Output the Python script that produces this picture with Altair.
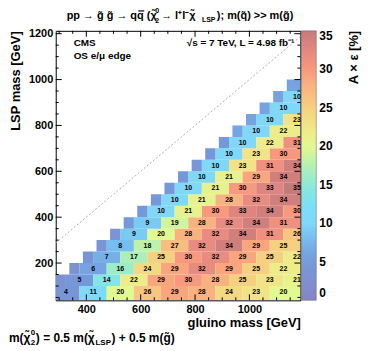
import altair as alt
import pandas as pd

# ---- data -----------------------------------------------------------------
# A x eps [%] labels, one list per LSP row; labels in a row are 100 GeV apart
row_00 = [4, 11, 20, 26, 29, 28, 24, 23, 20]
row_01 = [5, 14, 22, 29, 30, 28, 25, 23, 21]
row_02 = [6, 16, 24, 29, 32, 29, 25, 22]
row_03 = [7, 17, 25, 30, 32, 29, 25, 22]
row_04 = [8, 18, 27, 32, 34, 29, 25]
row_05 = [9, 20, 28, 32, 34, 31, 26]
row_06 = [9, 19, 28, 32, 34, 31]
row_07 = [10, 21, 30, 33, 34, 30]
row_08 = [10, 21, 28, 32, 34]
row_09 = [10, 21, 30, 33, 35]
row_10 = [10, 21, 29, 34]
row_11 = [10, 23, 31, 34]
row_12 = [10, 23, 30]
row_13 = [10, 22, 31]
row_14 = [10, 22]
row_15 = [10, 23]
row_16 = [10]
row_17 = [10]
rows = [row_00, row_01, row_02, row_03, row_04, row_05, row_06, row_07, row_08,
        row_09, row_10, row_11, row_12, row_13, row_14, row_15, row_16, row_17]

# LSP mass of each row and gluino mass of its first label
lsp_rows = [75, 125, 175, 225, 275, 325, 375, 425, 475, 525, 575, 625, 675,
            725, 775, 825, 875, 925, 975]
mg_first = [325, 375, 425, 475, 525, 575, 625, 675, 725, 775, 825, 875, 925,
            975, 1025, 1075, 1125, 1175, 1225]
# unlabeled cells along the kinematic edge (colour)
edge_vals = [3, 3, 3, 4, 4, 4, 5, 5, 5, 5, 5, 5, 5, 5, 6, 6, 6, 6, 6]

x_major = [400, 600, 800, 1000]
x_minor = [300, 350, 450, 500, 550, 650, 700, 750, 850, 900, 950, 1050, 1100, 1150]
y_major = [200, 400, 600, 800, 1000, 1200]
y_minor = [50, 100, 150, 250, 300, 350, 450, 500, 550, 650, 700, 750, 850, 900,
           950, 1050, 1100, 1150]
cbar_vals = [0, 5, 10, 15, 20, 25, 30, 35]
diag = [287.5, 1187.5]

XMIN, XMAX = 287.5, 1187.5
YMIN, YMAX = 37.5, 1212.5
W, H = 246, 271
FONT = "Liberation Sans"

cells = []
for r, vals in enumerate(rows):
    lsp = lsp_rows[r]
    for k, v in enumerate(vals):
        mg = mg_first[r] + 100 * k
        cells.append(dict(mg=mg, lsp=lsp, x=max(mg - 50, XMIN),
                          x2=XMAX if k == len(vals) - 1 else mg + 50,
                          y=YMIN if r == 0 else lsp - 25, y2=lsp + 25,
                          v=v, lab=str(v)))
for r, v in enumerate(edge_vals):
    lsp = lsp_rows[r]
    lo = max(lsp + 162.5, XMIN)
    hi = XMAX if r == len(edge_vals) - 1 else lsp + 200
    if hi <= lo:
        continue
    cells.append(dict(mg=None, lsp=lsp, x=lo, x2=hi,
                      y=YMIN if r == 0 else lsp - 25, y2=lsp + 25, v=v, lab=""))
df = pd.DataFrame(cells)
labels = df[df.lab != ""]

xs = alt.Scale(domain=[XMIN, XMAX], nice=False, zero=False)
ys = alt.Scale(domain=[YMIN, YMAX], nice=False, zero=False)
xaxis = alt.Axis(title="gluino mass [GeV]", values=x_major, format="d",
                 ticks=False, domain=False, grid=False, titleAnchor="end",
                 labelPadding=3, titlePadding=2)
yaxis = alt.Axis(title="LSP mass [GeV]", values=y_major, format="d",
                 ticks=False, domain=False, grid=False, titleAnchor="end",
                 labelPadding=3, titlePadding=6)
cs = alt.Scale(domain=[0, 2.5, 5, 7.5, 10, 12.5, 15, 17.5, 20, 22.5, 25, 27.5, 30, 32.5, 35],
               range=["#8484c4", "#8090d0", "#7698da", "#76b6ea", "#80d8f8", "#7ae0f8",
                      "#92e8d6", "#b8f0b0", "#e2f890", "#f0e888", "#f4d080", "#f8b880",
                      "#f8987e", "#e48882", "#c47a7a"])

heat = alt.Chart(df).mark_rect(clip=True, strokeWidth=0).encode(
    x=alt.X("x:Q", scale=xs, axis=xaxis),
    x2="x2",
    y=alt.Y("y:Q", scale=ys, axis=yaxis),
    y2="y2",
    color=alt.Color("v:Q", scale=cs, legend=alt.Legend(
        type="gradient", orient="none", legendX=W + 1, legendY=0, direction="vertical",
        gradientLength=H, gradientThickness=15, title=None, values=cbar_vals,
        labelFont=FONT, labelFontSize=12, labelFontWeight="bold", labelColor="black",
        labelOffset=3, gradientStrokeColor="#666666", gradientStrokeWidth=0.5, padding=0)),
)

text = alt.Chart(labels).mark_text(font=FONT, fontSize=7, fontWeight="bold",
                                   color="black", baseline="middle").encode(
    x=alt.X("mg:Q", scale=xs, axis=xaxis),
    y=alt.Y("lsp:Q", scale=ys, axis=yaxis),
    text="lab:N",
)

diag_line = alt.Chart(pd.DataFrame({"m": diag})).mark_line(
    color="#b0b0b0", strokeDash=[2, 2], strokeWidth=1).encode(
    x=alt.X("m:Q", scale=xs, axis=xaxis),
    y=alt.Y("m:Q", scale=ys, axis=yaxis),
)


def xticks(vals, ln):
    d = pd.DataFrame({"t": vals})
    b = alt.Chart(d).mark_rule(color="black", strokeWidth=1).encode(
        x=alt.X("t:Q", scale=xs, axis=xaxis), y=alt.value(H), y2=alt.value(H - ln))
    t = alt.Chart(d).mark_rule(color="black", strokeWidth=1).encode(
        x=alt.X("t:Q", scale=xs, axis=xaxis), y=alt.value(0), y2=alt.value(ln))
    return [b, t]


def yticks(vals, ln):
    d = pd.DataFrame({"t": vals})
    l = alt.Chart(d).mark_rule(color="black", strokeWidth=1).encode(
        y=alt.Y("t:Q", scale=ys, axis=yaxis), x=alt.value(0), x2=alt.value(ln))
    r = alt.Chart(d).mark_rule(color="black", strokeWidth=1).encode(
        y=alt.Y("t:Q", scale=ys, axis=yaxis), x=alt.value(W), x2=alt.value(W - ln))
    return [l, r]


def label(txt, x, y, size, align="left", angle=0):
    return alt.Chart(pd.DataFrame({"t": [txt]})).mark_text(
        font=FONT, fontSize=size, fontWeight="bold", color="black", align=align,
        baseline="middle", angle=angle).encode(
        x=alt.value(x), y=alt.value(y), text="t:N")


# overline of the anti-quark in the title
qbar = alt.Chart(pd.DataFrame({"t": [0]})).mark_rule(color="black", strokeWidth=1.2).encode(
    x=alt.value(83), x2=alt.value(89), y=alt.value(-20))

ann = [
    label("CMS", 18, 12, 10),
    label("OS e/\u03bc edge", 18, 25, 10),
    label("\u221as = 7 TeV, L = 4.98 fb\u207b\u00b9", 240, 12, 10, align="right"),
    # title
    label("pp \u2192 g\u0303 g\u0303 \u2192 qq (\u03c7\u0303", 11, -15, 11),
    qbar,
    label("0", 100, -20, 7),
    label("2", 100, -10, 7),
    label("\u2192 l\u207al\u207b\u03c7\u0303", 106, -15, 11),
    label("LSP", 147, -11, 7),
    label("); m(q\u0303) >> m(g\u0303)", 162, -15, 11),
    # colour bar title
    label("A \u00d7 \u03b5 [%]", 300, 0, 13, align="right", angle=270),
    # footnote
    label("m(\u03c7\u0303", -47, 309, 12),
    label("0", -25, 304, 8),
    label("2", -25, 314, 8),
    label(") = 0.5 m(\u03c7\u0303", -20, 309, 12),
    label("LSP", 40, 314, 8),
    label(") + 0.5 m(g\u0303)", 56, 309, 12),
]

layers = [heat, text, diag_line] + xticks(x_major, 6) + xticks(x_minor, 3) \
    + yticks(y_major, 6) + yticks(y_minor, 3) + ann

chart = alt.layer(*layers).properties(
    width=W, height=H,
    autosize=alt.AutoSizeParams(type="none"),
    padding={"left": 48, "top": 22, "right": 66, "bottom": 48},
).configure_view(stroke="black", strokeWidth=1).configure_axis(
    labelFont=FONT, labelFontSize=11, labelFontWeight="bold", labelColor="black",
    titleFont=FONT, titleFontSize=13, titleFontWeight="bold", titleColor="black",
)

chart.save("out.html", embed_options={"renderer": "svg", "actions": False})
